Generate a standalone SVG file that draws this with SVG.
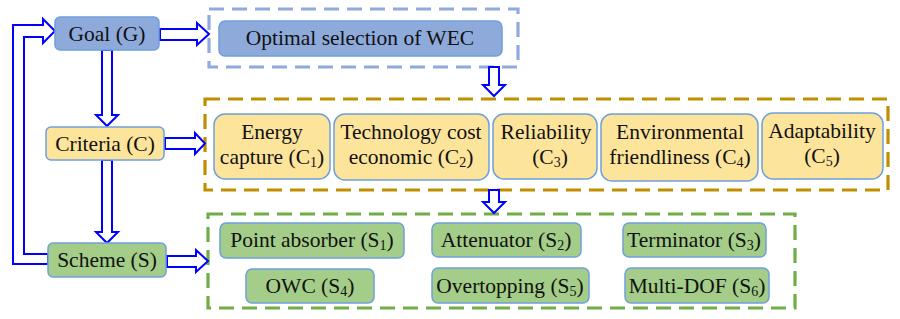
<svg xmlns="http://www.w3.org/2000/svg" width="900" height="319" viewBox="0 0 900 319" font-family="Liberation Serif, Times New Roman, serif">
<style>
text{font-size:21.5px;fill:#111;text-anchor:middle}
.sub{font-size:14px}
.node{stroke:#6fa0dc;stroke-width:1.5}
.goal{fill:#8eaadb}
.crit{fill:#fde49b}
.sch{fill:#a3cd88}
.dash{fill:none;stroke-width:3.2;stroke-dasharray:15 8}
.arr{fill:#fff;stroke:#0000ff;stroke-width:2;stroke-linejoin:miter}
</style>
<rect width="900" height="319" fill="#fff"/>
<g id="groups">
<rect id="wec-group" class="dash" x="209" y="9" width="309" height="58" stroke="#8faadc"/>
<rect id="criteria-group" class="dash" x="205" y="99" width="683" height="91" stroke="#bf8f00"/>
<rect id="scheme-group" class="dash" x="208" y="214" width="587" height="94" stroke="#70ad47"/>
</g>
<g id="connectors">
<polygon class="arr" points="160,29 197,29 197,23 209,34 197,45 197,40 160,40"/>
<polygon class="arr" points="102,50 112,50 112,115 118,115 107,126 96,115 102,115"/>
<polygon class="arr" points="165,138 195,138 195,133 205,143.5 195,154 195,149 165,149"/>
<polygon class="arr" points="102,160 112,160 112,232 118,232 107,243 96,232 102,232"/>
<polygon class="arr" points="167,256 196,256 196,250 208,261 196,272 196,267 167,267"/>
<polygon class="arr" points="489,67 499,67 499,85 505,85 494,96 483,85 489,85"/>
<polygon class="arr" points="489,190 499,190 499,202 505,202 494,213 483,202 489,202"/>
<polygon class="arr" points="48,264 13,264 13,25 43,25 43,19 55,31 43,43 43,37 24,37 24,254 48,254"/>
</g>
<g id="goal">
<rect class="node goal" x="55" y="17" width="104" height="33" rx="5" stroke="#8eaadb"/>
<text x="107" y="41">Goal (G)</text>
</g>
<g id="optimal">
<rect class="node goal" x="219" y="21" width="283" height="35" rx="6" stroke="#a9c0e6"/>
<text x="360" y="45">Optimal selection of WEC</text>
</g>
<g id="criteria">
<rect class="node crit" x="46" y="127" width="118" height="33" rx="5"/>
<text x="105" y="151">Criteria (C)</text>
</g>
<g id="scheme">
<rect class="node sch" x="48" y="243" width="118" height="34" rx="5"/>
<text x="107" y="267">Scheme (S)</text>
</g>
<g id="c1">
<rect class="node crit" x="214" y="114" width="116" height="65" rx="11"/>
<text x="272" y="139">Energy</text>
<text x="272" y="164">capture (C<tspan class="sub" dy="3">1</tspan><tspan dy="-3">)</tspan></text>
</g>
<g id="c2">
<rect class="node crit" x="334" y="114" width="155" height="66" rx="11"/>
<text x="411" y="139">Technology cost</text>
<text x="411" y="164">economic (C<tspan class="sub" dy="3">2</tspan><tspan dy="-3">)</tspan></text>
</g>
<g id="c3">
<rect class="node crit" x="493" y="114" width="104" height="65" rx="11"/>
<text x="546" y="139">Reliability</text>
<text x="550" y="164">(C<tspan class="sub" dy="3">3</tspan><tspan dy="-3">)</tspan></text>
</g>
<g id="c4">
<rect class="node crit" x="601" y="114" width="157" height="67" rx="11"/>
<text x="680" y="139">Environmental</text>
<text x="680" y="164">friendliness (C<tspan class="sub" dy="3">4</tspan><tspan dy="-3">)</tspan></text>
</g>
<g id="c5">
<rect class="node crit" x="762" y="113" width="121" height="66" rx="11"/>
<text x="822" y="138">Adaptability</text>
<text x="822" y="163">(C<tspan class="sub" dy="3">5</tspan><tspan dy="-3">)</tspan></text>
</g>
<g id="s1">
<rect class="node sch" x="220" y="223" width="184" height="35" rx="6"/>
<text x="312" y="247">Point absorber (S<tspan class="sub" dy="3">1</tspan><tspan dy="-3">)</tspan></text>
</g>
<g id="s2">
<rect class="node sch" x="432" y="223" width="149" height="34" rx="6"/>
<text x="506" y="247">Attenuator (S<tspan class="sub" dy="3">2</tspan><tspan dy="-3">)</tspan></text>
</g>
<g id="s3">
<rect class="node sch" x="623" y="223" width="143" height="34" rx="6"/>
<text x="694" y="247">Terminator (S<tspan class="sub" dy="3">3</tspan><tspan dy="-3">)</tspan></text>
</g>
<g id="s4">
<rect class="node sch" x="246" y="269" width="128" height="34" rx="6"/>
<text x="310" y="293">OWC (S<tspan class="sub" dy="3">4</tspan><tspan dy="-3">)</tspan></text>
</g>
<g id="s5">
<rect class="node sch" x="432" y="268" width="157" height="35" rx="6"/>
<text x="510" y="293">Overtopping (S<tspan class="sub" dy="3">5</tspan><tspan dy="-3">)</tspan></text>
</g>
<g id="s6">
<rect class="node sch" x="625" y="268" width="144" height="35" rx="6"/>
<text x="697" y="293">Multi-DOF (S<tspan class="sub" dy="3">6</tspan><tspan dy="-3">)</tspan></text>
</g>
</svg>
